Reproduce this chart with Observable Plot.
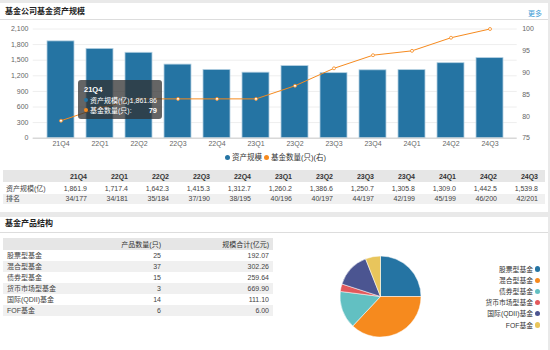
<!DOCTYPE html>
<html><head><meta charset="utf-8">
<script src="https://cdn.jsdelivr.net/npm/d3@7"></script>
<script src="https://cdn.jsdelivr.net/npm/@observablehq/plot@0.6"></script>
<style>
body{margin:0;width:550px;height:350px;background:#e9e9e9;font-family:"Liberation Sans","Noto Sans CJK SC",sans-serif;position:relative;overflow:hidden;color:#333}
.abs{position:absolute;white-space:nowrap}
.card{position:absolute;background:#fff}
.title{position:absolute;font-size:8px;font-weight:bold;color:#222;line-height:10px}
.sep{position:absolute;height:1px;background:#ddd}
.cell{position:absolute;font-size:7px;line-height:9px;white-space:nowrap;color:#444}
.band{position:absolute;background:#f0f0f0}
.hband{position:absolute;background:#e6e6e6}
</style></head><body>
<script>
const quarters = ["21Q4","22Q1","22Q2","22Q3","22Q4","23Q1","23Q2","23Q3","23Q4","24Q1","24Q2","24Q3"];
const assets = [1861.9,1717.4,1642.3,1415.3,1312.7,1260.2,1386.6,1250.7,1305.8,1309.0,1442.5,1539.8];
const assetLabels = ["1,861.9","1,717.4","1,642.3","1,415.3","1,312.7","1,260.2","1,386.6","1,250.7","1,305.8","1,309.0","1,442.5","1,539.8"];
const fundCounts = [79,82,84,84,84,84,87,91,94,95,98,100];
const ranks = ["34/177","34/181","35/184","37/190","38/195","40/196","40/197","44/197","42/199","45/199","46/200","42/201"];
const leftTicks = [0,300,600,900,1200,1500,1800,2100];
const rightTicks = [75,80,85,90,95,100];
const productTypes = ["股票型基金","混合型基金","债券型基金","货币市场型基金","国际(QDII)基金","FOF基金"];
const productCounts = [25,37,15,3,14,6];
const productScale = ["192.07","302.26","259.64","669.90","111.10","6.00"];
const pieColors = ["#2574a3","#f68a1e","#62c0c2","#e3595c","#4b5591","#e8c55c"];
const barColor = "#2574a3", lineColor = "#f68a1e";

const body = document.body;
function el(cls, css, text){const d=document.createElement("div");d.className=cls;Object.assign(d.style,css);if(text!=null)d.textContent=text;body.appendChild(d);return d;}

// cards
el("card",{left:"0px",top:"3px",width:"548px",height:"209px"});
el("card",{left:"0px",top:"217px",width:"548px",height:"133px"});
el("title",{left:"5px",top:"7px"},"基金公司基金资产规模");
el("abs",{left:"528px",top:"8px",fontSize:"7px",color:"#3a9bd5"},"更多");
el("sep",{left:"0px",top:"19px",width:"548px"});
el("title",{left:"5px",top:"219px"},"基金产品结构");
el("sep",{left:"0px",top:"232px",width:"548px"});

// combined chart
const toLeft = v => (v-75)/25*2100;
const rows = quarters.map((q,i)=>({q, a:assets[i], c:fundCounts[i], cy:toLeft(fundCounts[i])}));
const chart = Plot.plot({
  width:550, height:135,
  marginLeft:32.7, marginRight:33.3, marginTop:8.5, marginBottom:17.3,
  style:{fontFamily:'"Liberation Sans","Noto Sans CJK SC",sans-serif', fontSize:"7px", color:"#666", background:"transparent"},
  x:{domain:quarters, padding:0.31},
  y:{domain:[0,2100]},
  marks:[
    Plot.gridY(leftTicks,{stroke:"#eee", strokeOpacity:1}),
    Plot.barY(rows,{x:"q", y:"a", fill:barColor, stroke:"#b3d0e1", strokeWidth:0.8}),
    Plot.ruleY([0],{stroke:"#ccc"}),
    Plot.line(rows,{x:"q", y:"cy", stroke:lineColor, strokeWidth:1}),
    Plot.dot(rows,{x:"q", y:"cy", r:1.5, stroke:lineColor, fill:"#fff", strokeWidth:0.8}),
    Plot.axisY(leftTicks,{anchor:"left", tickSize:0, tickPadding:4.7, tickFormat:d3.format(","), label:null}),
    Plot.axisY(rightTicks.map(toLeft),{anchor:"right", tickSize:0, tickPadding:5, tickFormat:v=>String(Math.round(v/2100*25+75)), label:null}),
    Plot.axisX({tickSize:0, tickPadding:3, label:null})
  ]
});
Object.assign(chart.style,{position:"absolute",left:"0px",top:"20px"});
body.appendChild(chart);

// legend chart 1
function dot(x,y,c,r){el("abs",{left:(x-r)+"px",top:(y-r)+"px",width:2*r+"px",height:2*r+"px",borderRadius:"50%",background:c});}
dot(227.7,157,barColor,2.5);
el("abs",{left:"232px",top:"152.5px",fontSize:"7.5px",lineHeight:"9px"},"资产规模");
dot(266.5,157,lineColor,2.5);
el("abs",{left:"271px",top:"152.5px",fontSize:"7.5px",lineHeight:"9px"},"基金数量(只)(右)");

// tooltip
el("abs",{left:"78px",top:"80px",width:"84px",height:"39px",background:"rgba(50,50,50,0.75)",borderRadius:"3px",color:"#fff"});
el("abs",{left:"84px",top:"85px",fontSize:"7.5px",fontWeight:"bold",color:"#fff",lineHeight:"9px"},quarters[0]);
dot(86,99.7,barColor,2);
el("abs",{left:"90px",top:"95.5px",fontSize:"7px",color:"#fff",lineHeight:"9px"},"资产规模(亿):");
el("abs",{left:"118px",width:"39px",textAlign:"right",top:"95.5px",fontSize:"7px",color:"#fff",lineHeight:"9px"},"1,861.86");
dot(86,110,lineColor,2);
el("abs",{left:"90px",top:"105.5px",fontSize:"7px",color:"#fff",lineHeight:"9px"},"基金数量(只):");
el("abs",{left:"118px",width:"39px",textAlign:"right",top:"105.5px",fontSize:"7.5px",fontWeight:"bold",color:"#fff",lineHeight:"9px"},String(fundCounts[0]));

// table 1
el("hband",{left:"3px",top:"170px",width:"542px",height:"11.5px"});
el("band",{left:"3px",top:"193.5px",width:"542px",height:"10px"});
el("cell",{left:"6px",top:"183.8px"},"资产规模(亿)");
el("cell",{left:"6px",top:"194.2px"},"排名");
quarters.forEach((q,i)=>{
  const r = 87 + i*41;
  el("cell",{left:(r-40)+"px",width:"40px",textAlign:"right",top:"171.5px",fontWeight:"bold",color:"#333"},q);
  el("cell",{left:(r-40)+"px",width:"40px",textAlign:"right",top:"183.8px"},assetLabels[i]);
  el("cell",{left:(r-40)+"px",width:"40px",textAlign:"right",top:"194.2px"},ranks[i]);
});

// table 2
el("hband",{left:"3px",top:"238.3px",width:"270px",height:"11.7px"});
el("cell",{left:"100px",width:"61px",textAlign:"right",top:"239.7px",color:"#333"},"产品数量(只)");
el("cell",{left:"190px",width:"79px",textAlign:"right",top:"239.7px",color:"#333"},"规模合计(亿元)");
productTypes.forEach((t,i)=>{
  const top = 250 + i*11;
  if(i%2===1) el("band",{left:"3px",top:top+"px",width:"270px",height:"11px"});
  el("cell",{left:"7px",top:(top+1)+"px"},t);
  el("cell",{left:"120px",width:"41px",textAlign:"right",top:(top+1)+"px"},String(productCounts[i]));
  el("cell",{left:"200px",width:"69px",textAlign:"right",top:(top+1)+"px"},productScale[i]);
});

// pie
const svg = d3.select(body).append("svg").attr("width",550).attr("height",350)
  .style("position","absolute").style("left","0px").style("top","0px").style("pointer-events","none");
const pie = d3.pie().sort(null).value(d=>d)(productCounts);
const arc = d3.arc().innerRadius(0).outerRadius(40.5);
const g = svg.append("g").attr("transform","translate(380.5,296.5)");
g.selectAll("path").data(pie).join("path").attr("d",arc).attr("fill",(d,i)=>pieColors[i]).attr("stroke","#fff").attr("stroke-width",0.5);

// pie legend
productTypes.forEach((t,i)=>{
  const y = 269 + i*11.2;
  el("abs",{left:"420px",width:"113px",textAlign:"right",top:(y-4.5)+"px",fontSize:"6.8px",lineHeight:"9px",color:"#333"},t);
  dot(537.7,y,pieColors[i],2.6);
});
</script>
</body></html>
